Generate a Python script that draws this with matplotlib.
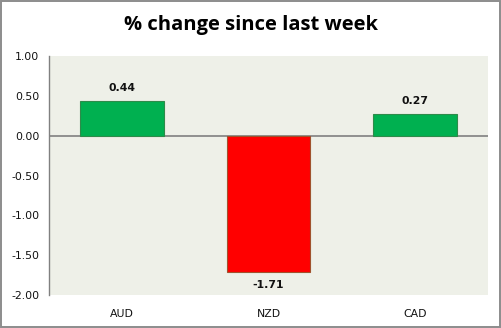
import matplotlib
matplotlib.use("Agg")
import matplotlib.pyplot as plt
from matplotlib.patches import Rectangle

currencies = ["AUD", "NZD", "CAD"]
changes = [0.44, -1.71, 0.27]
y_ticks = [1.00, 0.50, 0.00, -0.50, -1.00, -1.50, -2.00]
title = "% change since last week"

fig = plt.figure(figsize=(5.02, 3.28), dpi=100)
fig.patch.set_facecolor("white")

# outer chart border
fig.patches.append(Rectangle((0.002, 0.004), 0.994, 0.993, transform=fig.transFigure,
                             fill=False, edgecolor="#8c8c8c", linewidth=1.4))

ax = fig.add_axes([49 / 502, 1 - 295 / 328, (488 - 49) / 502, (295 - 56) / 328])
ax.set_facecolor("#eef0e8")

colors = ["#00b050" if v >= 0 else "#ff0000" for v in changes]
edges = ["#2e8b4a" if v >= 0 else "#a0522d" for v in changes]
x = range(len(currencies))
ax.bar(x, changes, width=0.57, color=colors, edgecolor=edges, linewidth=0.8, zorder=3)

ax.axhline(0, color="#808080", linewidth=1.2, zorder=2)

for i, v in enumerate(changes):
    if v >= 0:
        ax.text(i, v + 0.1, f"{v:.2f}", ha="center", va="bottom",
                fontsize=7.8, fontweight="bold", color="#111111")
    else:
        ax.text(i, v - 0.1, f"{v:.2f}", ha="center", va="top",
                fontsize=7.8, fontweight="bold", color="#111111")

ax.set_xlim(-0.5, 2.5)
ax.set_ylim(-2.0, 1.0)
ax.set_yticks(y_ticks)
ax.set_yticklabels([f"{t:.2f}" for t in y_ticks], fontsize=7.8, color="#111111")
ax.set_xticks(list(x))
ax.set_xticklabels(currencies, fontsize=7.8, color="#111111")
ax.tick_params(axis="both", length=0, pad=7)
ax.tick_params(axis="x", pad=10)

for side in ["top", "right", "bottom"]:
    ax.spines[side].set_visible(False)
ax.spines["left"].set_color("#808080")
ax.spines["left"].set_linewidth(1.0)

fig.text(0.5, 1 - 25 / 328, title, ha="center", va="center",
         fontsize=14.5, fontweight="bold", family="Open Sans", color="black")

fig.savefig("out.png", dpi=100)
